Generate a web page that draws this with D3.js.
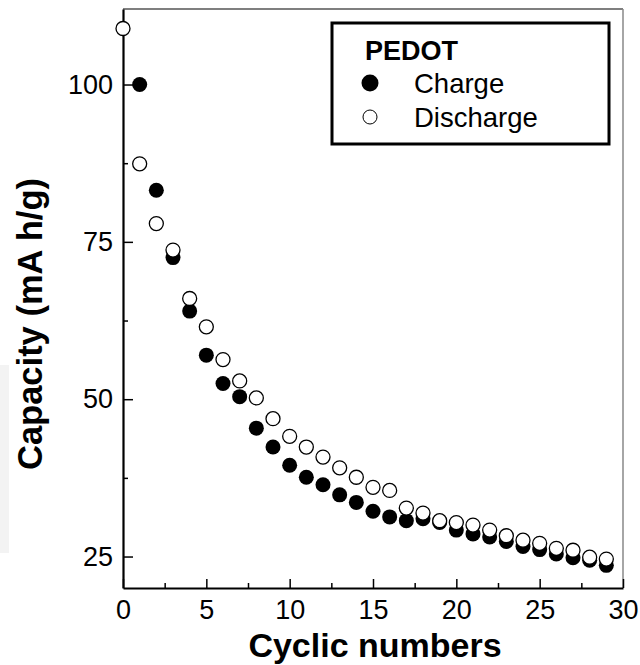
<!DOCTYPE html>
<html>
<head>
<meta charset="utf-8">
<script src="https://cdn.jsdelivr.net/npm/d3@7"></script>
<style>
  body { margin: 0; background: #fff; }
  svg { display: block; font-family: Arial, "Liberation Sans", sans-serif; }
</style>
</head>
<body>
<div id="chart"></div>
<script>
const width = 640;
const height = 665;

// cycle index 0..29
const cycles = d3.range(0, 30);
// charge capacity (no value for cycle 0)
const charge = [null, 100, 83.2, 72.5, 64.0, 57.0, 52.5, 50.4, 45.4, 42.4,
    39.5, 37.6, 36.4, 34.8, 33.6, 32.2, 31.3, 30.7, 31.0, 30.4,
    29.2, 28.6, 28.1, 27.4, 26.6, 26.1, 25.4, 24.8, 24.4, 23.6];
// discharge capacity
const discharge = [108.9, 87.4, 77.9, 73.7, 66.0, 61.5, 56.3, 52.9, 50.2, 46.9,
    44.1, 42.4, 40.8, 39.1, 37.6, 36.0, 35.5, 32.7, 31.9, 30.7,
    30.4, 30.0, 29.2, 28.3, 27.6, 27.1, 26.3, 26.0, 24.9, 24.6];
const xTicks = [0, 5, 10, 15, 20, 25, 30];
const yTicks = [25, 50, 75, 100];

const mLeft = 123, mRight = 623, mTop = 9, mBottom = 588;

const svg = d3.select("#chart").append("svg")
    .attr("width", width)
    .attr("height", height);

const x = d3.scaleLinear().domain([0, 30]).range([mLeft, mRight]);
const y = d3.scaleLinear().domain([20, 112]).range([mBottom, mTop]);

// faint grey strip at far left
svg.append("rect")
    .attr("x", 0).attr("y", 365).attr("width", 9).attr("height", 188)
    .attr("fill", "#f3f3f3");

// frame: top thin black, right grey
svg.append("line")
    .attr("x1", mLeft).attr("x2", mRight).attr("y1", mTop).attr("y2", mTop)
    .attr("stroke", "#000").attr("stroke-width", 1.2);
svg.append("line")
    .attr("x1", mRight).attr("x2", mRight).attr("y1", mTop).attr("y2", mBottom)
    .attr("stroke", "#888").attr("stroke-width", 1.5);

// x axis, ticks pointing inward
const xAxis = svg.append("g")
    .attr("transform", `translate(0,${mBottom})`)
    .call(d3.axisBottom(x).tickValues(xTicks).tickSize(-9).tickPadding(12).tickSizeOuter(0));
xAxis.append("g")
    .call(d3.axisBottom(x).tickValues(d3.range(2.5, 30, 5)).tickSize(-5).tickFormat("").tickSizeOuter(0))
    .select(".domain").remove();

// y axis, ticks pointing inward
const yAxis = svg.append("g")
    .attr("transform", `translate(${mLeft},0)`)
    .call(d3.axisLeft(y).tickValues(yTicks).tickSize(-10).tickPadding(10).tickSizeOuter(0));
yAxis.append("g")
    .call(d3.axisLeft(y).tickValues([37.5, 62.5, 87.5]).tickSize(-5).tickFormat("").tickSizeOuter(0))
    .select(".domain").remove();

svg.selectAll(".domain").attr("stroke", "#000").attr("stroke-width", 2.2);
svg.selectAll(".tick line").attr("stroke", "#000").attr("stroke-width", 1.5);
svg.selectAll(".tick text")
    .attr("font-size", 27)
    .attr("font-family", "Arial, 'Liberation Sans', sans-serif")
    .attr("fill", "#000");

// axis titles
svg.append("text")
    .attr("x", 375)
    .attr("y", 657)
    .attr("text-anchor", "middle")
    .attr("font-size", 34)
    .attr("font-weight", "bold")
    .text("Cyclic numbers");

svg.append("text")
    .attr("transform", `translate(42,324) rotate(-90)`)
    .attr("text-anchor", "middle")
    .attr("font-size", 34.5)
    .attr("font-weight", "bold")
    .text("Capacity (mA h/g)");

// data markers: charge first, discharge on top
svg.append("g").selectAll("circle")
    .data(cycles.filter(i => charge[i] != null))
    .enter().append("circle")
    .attr("cx", i => x(i))
    .attr("cy", i => y(charge[i]))
    .attr("r", 7.5)
    .attr("fill", "#000");

svg.append("g").selectAll("circle")
    .data(cycles)
    .enter().append("circle")
    .attr("cx", i => x(i))
    .attr("cy", i => y(discharge[i]))
    .attr("r", 7)
    .attr("fill", "#fff")
    .attr("stroke", "#000")
    .attr("stroke-width", 1.3);

// legend
const legend = svg.append("g");
legend.append("rect")
    .attr("x", 332).attr("y", 23).attr("width", 277).attr("height", 121)
    .attr("fill", "#fff").attr("stroke", "#000").attr("stroke-width", 3);
legend.append("text")
    .attr("x", 365).attr("y", 60)
    .attr("font-size", 27).attr("font-weight", "bold")
    .text("PEDOT");
legend.append("circle")
    .attr("cx", 370).attr("cy", 83).attr("r", 8.5).attr("fill", "#000");
legend.append("text")
    .attr("x", 414).attr("y", 93)
    .attr("font-size", 27.5)
    .text("Charge");
legend.append("circle")
    .attr("cx", 370).attr("cy", 117).attr("r", 7)
    .attr("fill", "#fff").attr("stroke", "#000").attr("stroke-width", 1);
legend.append("text")
    .attr("x", 414).attr("y", 127)
    .attr("font-size", 27.5)
    .text("Discharge");
</script>
</body>
</html>
